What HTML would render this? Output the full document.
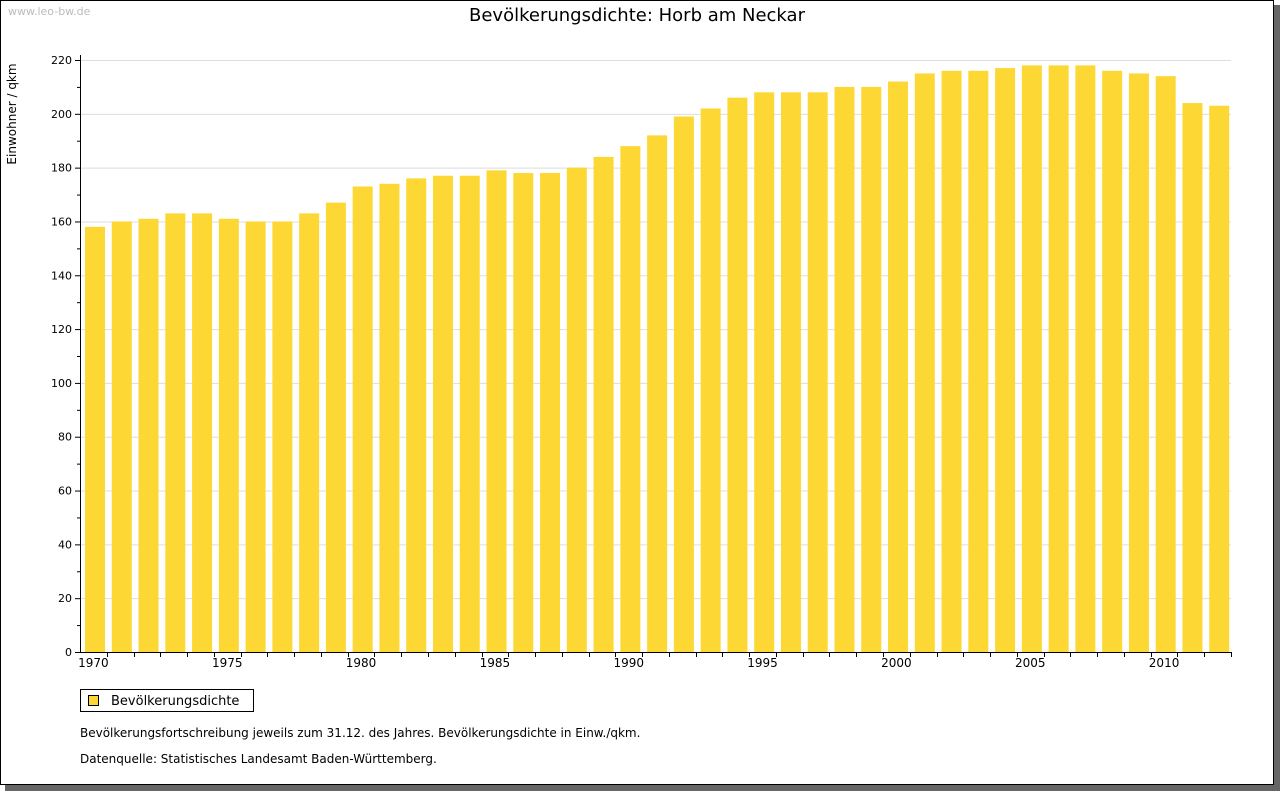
<!DOCTYPE html>
<html><head><meta charset="utf-8"><style>
body{margin:0;background:#fff;width:1280px;height:791px;overflow:hidden;font-family:"DejaVu Sans","Liberation Sans",sans-serif}
</style></head><body>
<svg width="1280" height="791" xmlns="http://www.w3.org/2000/svg">
<rect x="5" y="5" width="1275" height="786" fill="#666"/>
<rect x="0.5" y="0.5" width="1273" height="784" fill="#fff" stroke="#000"/>
<text x="8" y="15" font-size="11" fill="#bbb">www.leo-bw.de</text>
<text x="637" y="21" font-size="18" text-anchor="middle" fill="#000">Bevölkerungsdichte: Horb am Neckar</text>
<text transform="translate(16,114) rotate(-90)" font-size="12" text-anchor="middle">Einwohner / qkm</text>
<g id="grid"></g><g id="bars"></g><g id="axes"></g>
<rect x="80.5" y="689.5" width="173" height="22" fill="#fff" stroke="#000"/>
<rect x="88.5" y="695.5" width="10" height="10" fill="#fdd835" stroke="#000"/>
<text x="111" y="705" font-size="13">Bevölkerungsdichte</text>
<text x="80" y="737" font-size="12">Bevölkerungsfortschreibung jeweils zum 31.12. des Jahres. Bevölkerungsdichte in Einw./qkm.</text>
<text x="80" y="763" font-size="12">Datenquelle: Statistisches Landesamt Baden-Württemberg.</text>
</svg>
<script>
const years=[1970,1971,1972,1973,1974,1975,1976,1977,1978,1979,1980,1981,1982,1983,1984,1985,1986,1987,1988,1989,1990,1991,1992,1993,1994,1995,1996,1997,1998,1999,2000,2001,2002,2003,2004,2005,2006,2007,2008,2009,2010,2011,2012];
const values=[158,160,161,163,163,161,160,160,163,167,173,174,176,177,177,179,178,178,180,184,188,192,199,202,206,208,208,208,210,210,212,215,216,216,217,218,218,218,216,215,214,204,203];
const yTicks=[0,20,40,60,80,100,120,140,160,180,200,220];
const NS="http://www.w3.org/2000/svg";
const x0=80,x1=1231,yB=652,yT=60,yMax=220;
const band=(x1-x0)/years.length;
const X=i=>x0+i*band;
const Y=v=>yB-(v/yMax)*(yB-yT);
function mk(t,a,p){const e=document.createElementNS(NS,t);for(const k in a)e.setAttribute(k,a[k]);p.appendChild(e);return e;}
const g=document.getElementById('grid'),b=document.getElementById('bars'),ax=document.getElementById('axes');
yTicks.forEach(v=>{
 if(v>0){const l=mk('line',{x1:x0,x2:x1,y1:Y(v)+0.5,y2:Y(v)+0.5,stroke:'#ddd'},g);
 
 }
 const t=mk('line',{x1:x0-5,x2:x0,y1:Y(v)+0.5,y2:Y(v)+0.5,stroke:'#000'},ax);
 
 
 if(v<yMax){const m=mk('line',{x1:x0-3,x2:x0,y1:Y(v+10)+0.5,y2:Y(v+10)+0.5,stroke:'#000'},ax);
 
 }
 const tx=mk('text',{x:x0-8,y:Y(v)+4,'font-size':11,'text-anchor':'end'},ax);tx.textContent=v;
 
 
});
values.forEach((v,i)=>{
 const r=mk('rect',{x:X(i)+5,y:Y(v),width:20,height:yB-Y(v),fill:'#fdd835'},b);
 
 
 const t=mk('line',{x1:Math.round(X(i+1))+0.5,x2:Math.round(X(i+1))+0.5,y1:yB,y2:yB+5,stroke:'#000'},ax);
 
 
 if(years[i]%5===0){const tx=mk('text',{x:X(i)+band/2,y:yB+15,'font-size':12,'text-anchor':'middle'},ax);tx.textContent=years[i];
 
 }
});
const ya=mk('line',{x1:x0+0.5,x2:x0+0.5,y1:yT-5,y2:yB+1,stroke:'#000'},ax);


const xa=mk('line',{x1:x0,x2:x1,y1:yB+0.5,y2:yB+0.5,stroke:'#000'},ax);


</script>
</body></html>
